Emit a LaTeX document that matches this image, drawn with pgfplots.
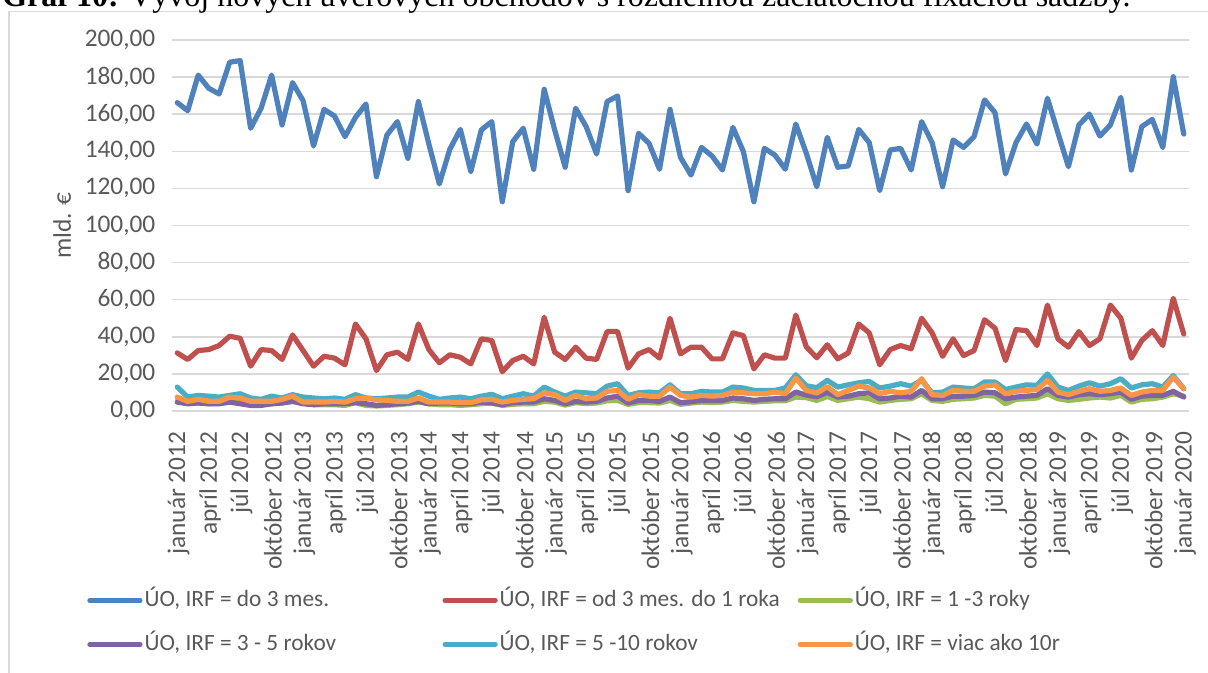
\documentclass[border=0pt]{standalone}
\usepackage{pgfplots}
\pgfplotsset{compat=1.18}
\usepackage{pgfplotstable}
\usepackage{fontspec}
\setmainfont{Carlito}
\newfontfamily\titlefont{Liberation Serif}
\definecolor{cA}{HTML}{4F81BD}
\definecolor{cB}{HTML}{C0504D}
\definecolor{cC}{HTML}{9BBB59}
\definecolor{cD}{HTML}{8064A2}
\definecolor{cE}{HTML}{4BACC6}
\definecolor{cF}{HTML}{F79646}
\definecolor{txt}{HTML}{595959}
\definecolor{grd}{HTML}{D9D9D9}

\pgfplotstableread{
i a b c d e f
0 166.2 31.3 7.0 4.8 12.9 7.5
1 161.9 27.8 5.2 3.9 7.5 5.2
2 181.1 32.6 4.3 4.3 8.4 6.3
3 174.0 33.1 3.9 3.9 8.0 5.2
4 170.9 35.3 4.3 3.9 7.5 5.2
5 188.0 40.3 4.8 4.8 8.4 7.5
6 188.9 39.2 5.2 3.9 9.3 7.0
7 152.4 24.2 3.9 3.0 7.0 5.2
8 163.2 33.1 3.4 3.0 6.3 5.2
9 181.1 32.6 3.9 3.9 8.0 5.2
10 154.2 27.8 4.3 4.3 7.0 6.3
11 177.0 41.0 5.2 5.2 8.8 8.0
12 167.3 32.6 4.3 3.9 7.5 4.8
13 142.9 24.2 3.4 3.4 7.0 4.8
14 162.6 29.5 3.4 3.9 6.6 4.8
15 159.0 28.5 3.4 3.9 7.0 5.2
16 147.9 24.9 3.0 3.9 6.3 4.8
17 158.3 46.9 4.5 4.5 8.8 6.6
18 165.5 38.9 3.0 3.9 7.0 7.0
19 126.3 21.8 2.7 3.0 6.6 6.0
20 148.8 30.3 3.0 3.4 7.0 5.7
21 156.0 31.7 3.4 3.9 7.5 5.2
22 136.2 27.8 3.9 4.3 7.5 5.2
23 166.8 46.9 4.8 5.2 10.2 7.0
24 143.9 33.1 3.9 3.9 8.0 4.8
25 122.4 26.0 3.4 4.3 6.3 4.8
26 141.1 30.3 3.4 4.3 7.0 4.8
27 151.8 29.0 3.0 3.9 7.5 4.5
28 129.0 25.4 3.4 3.9 6.6 4.5
29 151.5 38.9 3.9 4.8 8.0 6.0
30 156.0 38.0 4.3 4.3 9.0 6.3
31 112.8 21.2 3.0 3.4 6.6 4.8
32 145.2 27.2 3.6 4.5 8.0 5.7
33 152.4 29.5 3.9 4.8 9.3 6.3
34 130.3 25.4 3.9 4.8 8.0 6.6
35 173.4 50.5 5.2 6.6 12.9 9.8
36 151.5 31.7 4.8 5.7 10.2 8.8
37 131.4 27.8 3.2 3.9 8.0 5.7
38 163.2 34.4 4.5 5.2 10.2 8.4
39 153.3 28.5 4.0 4.8 9.8 6.6
40 138.5 27.8 4.3 5.2 9.3 7.0
41 166.8 42.8 5.5 7.0 13.4 10.6
42 169.8 42.8 5.7 8.0 14.7 11.1
43 118.8 23.1 3.6 4.3 8.4 6.3
44 149.7 30.8 4.5 5.7 9.8 8.8
45 144.3 33.1 4.5 5.7 10.2 8.0
46 130.3 28.5 4.3 5.2 9.8 8.0
47 162.6 50.0 5.7 7.5 14.1 12.9
48 136.7 30.8 3.6 4.5 9.3 8.4
49 127.2 34.4 4.3 5.0 9.3 7.5
50 142.1 34.4 4.8 5.7 10.6 8.4
51 137.5 28.1 4.5 5.7 10.2 8.0
52 129.9 28.1 4.8 5.7 10.2 8.4
53 152.9 42.1 5.7 7.0 12.9 10.2
54 139.8 40.6 5.2 6.6 12.4 9.8
55 112.8 22.7 4.8 5.7 11.1 9.3
56 141.6 30.3 5.2 6.3 11.1 9.3
57 138.0 28.5 5.5 6.6 11.1 10.2
58 130.3 28.5 5.5 6.6 12.4 9.3
59 154.7 51.7 7.5 10.2 19.5 17.7
60 138.9 34.6 7.2 8.6 13.6 11.1
61 120.9 28.7 5.7 7.7 12.6 9.7
62 147.5 35.7 7.8 10.0 16.5 13.1
63 131.4 28.1 5.7 7.5 12.9 8.8
64 132.1 31.3 6.6 8.0 14.1 11.1
65 151.8 46.9 7.5 9.3 15.2 13.4
66 144.7 42.1 6.6 9.8 15.9 12.4
67 118.8 24.9 4.8 6.6 12.4 9.3
68 140.7 33.1 5.7 7.0 13.4 10.6
69 141.6 35.3 6.3 8.0 14.7 9.8
70 129.9 33.5 6.6 7.5 13.4 10.6
71 156.0 50.0 9.3 11.1 16.5 17.4
72 144.7 42.1 5.7 6.6 9.8 8.8
73 120.9 29.5 5.2 6.6 10.2 8.4
74 146.1 38.9 6.3 8.0 12.9 11.1
75 142.1 29.9 6.6 8.0 12.4 10.6
76 147.9 32.6 7.0 8.4 12.0 10.6
77 167.7 49.2 8.4 10.2 15.6 13.4
78 160.8 44.6 8.0 9.8 15.6 14.1
79 127.8 27.2 3.9 6.6 11.6 9.3
80 144.7 43.9 6.3 7.5 12.9 10.6
81 154.7 43.3 6.6 8.0 14.1 11.1
82 143.9 35.3 7.0 8.4 13.8 11.6
83 168.6 57.1 9.3 12.0 20.0 16.5
84 150.0 38.9 6.6 8.4 12.9 10.2
85 131.7 34.4 5.7 7.5 11.1 8.8
86 154.2 42.8 6.3 8.8 13.4 10.6
87 160.1 35.3 7.0 9.3 15.2 12.0
88 148.2 38.9 7.5 8.8 13.4 10.6
89 154.2 57.1 7.0 9.3 14.7 11.1
90 169.1 50.0 8.4 10.2 17.4 12.4
91 129.9 28.5 4.8 6.3 12.4 8.4
92 153.3 38.0 6.3 8.0 14.1 10.2
93 157.2 43.3 6.6 8.4 14.7 11.1
94 142.1 35.3 7.5 8.4 12.9 11.1
95 180.2 60.7 9.3 10.6 19.1 18.3
96 149.3 41.5 8.0 7.5 12.0 12.0
}\datatable

\newcommand{\chfont}{\fontsize{17.5}{21}\selectfont}
\newcommand{\tkfont}{\fontsize{19}{22}\selectfont}

\begin{document}
\begin{tikzpicture}[x=0.75pt,y=0.75pt]
\useasboundingbox (0,0) rectangle (1208,673);
\clip (0,0) rectangle (1208,673);
\draw[grd, line width=1.1pt] (9,-20) -- (9,661.3) -- (1230,661.3);
\node[anchor=base west, inner sep=0pt, font=\titlefont\fontsize{24}{28}\selectfont] at (2,666)
  {\textbf{Graf 10:} Vývoj nových úverových obchodov s rozdielnou začiatočnou fixáciou sadzby.};
\begin{axis}[
  at={(129pt,196.5pt)}, anchor=south west,
  scale only axis, width=762.75pt, height=278.25pt,
  xmin=-0.5, xmax=96.5, ymin=0, ymax=200,
  ytick={0,20,...,200},
  xtick={0,3,...,96},
  xticklabels={január 2012, apríl 2012, júl 2012, október 2012,
    január 2013, apríl 2013, júl 2013, október 2013,
    január 2014, apríl 2014, júl 2014, október 2014,
    január 2015, apríl 2015, júl 2015, október 2015,
    január 2016, apríl 2016, júl 2016, október 2016,
    január 2017, apríl 2017, júl 2017, október 2017,
    január 2018, apríl 2018, júl 2018, október 2018,
    január 2019, apríl 2019, júl 2019, október 2019,
    január 2020},
  axis line style={draw=none},
  major tick length=0pt,
  ymajorgrids,
  major grid style={grd, line width=1.1pt},
  tick label style={font=\tkfont, text=txt},
  x tick label style={yshift=-12pt, xshift=1pt, rotate=90, anchor=east},
  y tick label style={xshift=-9pt},
  /pgf/number format/assume math mode=true,
  yticklabel style={/pgf/number format/.cd, fixed, fixed zerofill, precision=2, use comma, 1000 sep={}},
  ylabel={mld. €},
  ylabel style={font=\tkfont, text=txt, at={(axis description cs:-0.108,0.5)}, anchor=center},
  every axis plot/.append style={line width=3.9pt, line join=round, line cap=round, mark=none},
  legend columns=3,
  legend cell align=left,
  legend image code/.code={\draw[#1, line cap=round, line width=3.4pt] (0pt,0pt) -- (38pt,0pt);},
  legend style={at={(axis description cs:-0.0835,-0.57)}, anchor=west, draw=none, fill=none,
    inner sep=0pt, font=\chfont, text=txt, row sep=16pt,
    nodes={inner xsep=1.5pt, inner ysep=0pt, text height=13pt, text depth=4pt}},
]
\addplot[cA] table[x=i,y=a] {\datatable};
\addlegendentry{\makebox[222pt][l]{ÚO, IRF = do 3 mes.}}
\addplot[cB] table[x=i,y=b] {\datatable};
\addlegendentry{\makebox[222pt][l]{ÚO, IRF = od 3 mes. do 1 roka}}
\addplot[cC] table[x=i,y=c] {\datatable};
\addlegendentry{ÚO, IRF = 1 -3 roky}
\addplot[cD] table[x=i,y=d] {\datatable};
\addlegendentry{ÚO, IRF = 3 - 5 rokov}
\addplot[cE] table[x=i,y=e] {\datatable};
\addlegendentry{ÚO, IRF = 5 -10 rokov}
\addplot[cF] table[x=i,y=f] {\datatable};
\addlegendentry{ÚO, IRF = viac ako 10r}
\end{axis}
\end{tikzpicture}
\end{document}
